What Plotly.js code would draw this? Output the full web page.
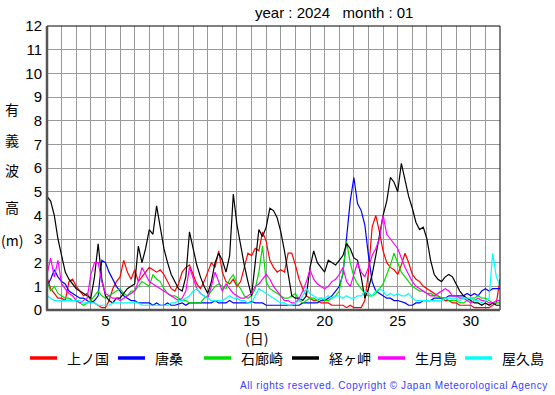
<!DOCTYPE html>
<html><head><meta charset="utf-8">
<script src="https://cdn.plot.ly/plotly-3.0.1.min.js"></script>
<style>html,body{margin:0;padding:0;background:#fff;}#chart{width:555px;height:395px;}</style>
</head><body><div id="chart"></div>
<script>
// 6-hourly readings, starting Jan 1 00:00 (day 1.0) to Feb 1 00:00 (day 32.0)
const startDay = 1;
const stepDays = 0.25;
const stations = ['上ノ国','唐桑','石廊崎','経ヶ岬','生月島','屋久島'];
const colors = ['#ff0000','#0000ff','#00dd00','#000000','#ff00ff','#00ffff'];

const kaminokuni = [
1.4,0.9,0.7,0.5, 0.5,0.4,1.2,1.3, 1.0,0.8,0.6,0.7, 0.4,0.3,0.2,0.1,
0.1,0.4,0.9,1.2, 1.4,2.1,1.6,1.3, 1.7,1.2,1.4,1.6, 1.8,1.7,1.6,1.7,
1.5,1.2,0.9,0.8, 1.1,1.6,1.8,1.9, 1.5,1.1,0.9,1.2, 1.6,2.0,1.8,2.5,
1.6,1.2,1.1,1.3, 1.0,1.2,1.8,2.4, 2.3,2.6,2.5,3.3, 2.9,2.1,1.8,1.6,
1.7,1.6,2.4,2.4, 1.9,1.3,0.9,0.6, 0.5,0.4,0.4,0.3, 0.3,0.3,0.2,0.2,
0.2,0.2,0.1,0.2, 0.1,0.1,0.1,0.4, 1.6,3.5,4.0,3.3, 2.5,2.0,1.8,1.7,
1.5,1.9,2.4,2.0, 1.5,1.3,1.2,1.0, 0.9,0.8,0.7,0.6, 0.5,0.4,0.4,0.3,
0.3,0.2,0.2,0.2, 0.2,0.1,0.1,0.1, 0.1,0.1,0.2,0.3, 1.3];

const karakuwa = [
1.0,1.3,1.7,1.4, 1.2,1.1,0.8,0.7, 0.6,0.5,0.5,0.4, 0.3,0.4,0.6,2.1,
2.0,1.6,1.3,1.0, 0.8,0.6,0.5,0.4, 0.4,0.3,0.3,0.3, 0.3,0.2,0.3,0.2,
0.2,0.3,0.2,0.2, 0.25,0.3,0.2,0.3, 0.3,0.3,0.3,0.3, 0.3,0.3,0.4,0.3,
0.3,0.3,0.4,0.3, 0.3,0.3,0.3,0.3, 0.35,0.3,0.3,0.3, 0.2,0.2,0.2,0.2,
0.2,0.2,0.2,0.2, 0.2,0.2,0.3,0.3, 0.3,0.3,0.3,0.4, 0.4,0.5,0.6,0.8,
1.0,1.5,3.0,4.6, 5.6,4.5,4.2,3.6, 2.3,1.2,0.8,0.7, 0.6,0.5,0.5,0.4,
0.4,0.35,0.3,0.2, 0.2,0.3,0.3,0.4, 0.4,0.4,0.5,0.5, 0.5,0.5,0.6,0.6,
0.6,0.6,0.6,0.7, 0.6,0.7,0.6,0.8, 0.9,0.8,0.9,0.9, 0.9];

const irozaki = [
1.2,0.8,1.0,0.7, 0.6,0.5,0.5,0.4, 0.4,0.3,0.2,0.3, 0.4,0.6,0.8,0.6,
0.5,0.6,0.7,0.8, 0.9,0.7,0.6,0.8, 0.8,1.0,1.2,1.1, 1.0,1.5,1.3,1.2,
0.9,0.7,0.6,0.6, 0.5,0.4,0.4,0.3, 0.3,0.3,0.3,0.5, 0.6,0.8,1.0,1.1,
1.0,0.9,1.3,1.5, 1.1,0.9,0.6,0.5, 0.6,0.9,1.6,2.7, 1.2,0.9,0.8,0.7,
0.6,0.5,0.5,0.6, 0.7,0.4,0.3,0.4, 0.5,0.5,0.4,0.5, 0.4,0.4,0.5,0.6,
0.8,1.6,2.9,2.0, 1.4,1.1,0.9,0.7, 0.6,0.6,0.7,0.9, 1.1,1.5,1.9,2.4,
2.0,1.6,1.4,1.2, 1.0,0.9,0.8,0.8, 0.7,0.7,0.6,0.6, 0.5,0.5,0.4,0.4,
0.4,0.3,0.3,0.4, 0.5,0.5,0.6,0.5, 0.5,0.4,0.3,0.3, 0.3];

const kyogamisaki = [
4.8,4.6,4.0,3.0, 2.3,1.6,1.3,1.1, 0.9,0.8,0.7,0.6, 0.5,1.4,2.8,1.3,
0.6,0.4,0.3,0.5, 0.5,0.7,0.9,1.0, 1.1,2.7,2.0,2.6, 3.4,3.2,4.4,3.5,
2.6,2.0,1.5,1.2, 0.9,0.8,1.4,3.3, 2.6,1.9,1.4,1.0, 0.7,1.2,2.0,2.4,
2.1,1.6,2.3,4.9, 3.6,2.7,1.9,1.2, 0.6,2.0,3.4,3.1, 3.5,4.3,4.2,3.9,
3.3,2.5,1.5,0.6, 0.5,0.5,0.4,0.6, 1.8,2.5,2.0,1.8, 1.6,2.1,2.0,1.9,
2.1,2.3,2.8,2.6, 2.2,2.1,1.4,0.5, 0.9,1.5,2.3,3.2, 4.0,4.6,5.6,5.4,
5.0,6.2,5.5,4.8, 4.3,3.7,3.4,3.5, 3.0,2.1,1.5,1.3, 1.2,1.4,1.5,1.4,
1.1,0.8,0.6,0.5, 0.4,0.3,0.3,0.2, 0.3,0.2,0.3,0.2, 0.2];

const ikitsuki = [
1.5,2.2,1.4,2.1, 1.1,0.9,0.7,0.6, 0.4,0.3,0.4,0.5, 1.5,2.0,2.0,1.2,
0.7,0.6,0.5,0.5, 0.4,0.5,0.6,0.7, 0.8,1.2,1.8,1.5, 1.2,1.1,1.0,0.9,
0.8,0.7,0.6,0.5, 0.4,0.5,0.8,1.8, 1.3,0.9,0.7,0.6, 0.5,1.0,1.6,1.2,
0.8,1.1,0.9,0.7, 0.6,0.5,0.5,0.6, 0.7,1.0,1.1,1.3, 1.5,1.3,1.0,0.8,
0.6,0.4,0.4,0.3, 0.3,0.5,0.8,1.2, 1.7,1.3,1.1,1.0, 0.9,1.0,1.2,1.3,
1.5,1.8,1.2,1.0, 1.5,2.0,1.6,1.4, 1.8,2.3,2.6,3.0, 4.0,3.2,3.0,2.8,
2.6,2.2,1.8,1.5, 1.2,1.0,0.9,0.8, 0.7,0.6,0.6,0.7, 0.8,0.9,0.8,0.6,
0.6,0.5,0.5,0.4, 0.3,0.4,0.5,0.4, 0.4,0.3,0.3,0.4, 0.4];

const yakushima = [
0.6,0.5,0.4,0.4, 0.4,0.4,0.4,0.4, 0.4,0.4,0.3,0.3, 0.3,0.3,0.2,0.2,
0.2,0.2,0.3,0.3, 0.3,0.3,0.3,0.3, 0.3,0.3,0.2,0.2, 0.2,0.2,0.2,0.2,
0.2,0.2,0.3,0.3, 0.4,0.4,0.5,0.6, 0.8,0.9,0.7,0.6, 0.5,0.4,0.4,0.4,
0.4,0.5,0.6,0.5, 0.5,0.4,0.4,0.3, 0.3,0.6,0.9,0.8, 0.7,0.6,0.5,0.4,
0.3,0.3,0.2,0.2, 0.3,0.4,0.6,0.9, 0.7,0.6,0.5,0.5, 0.5,0.6,0.5,0.6,
0.6,0.5,0.6,0.5, 0.5,0.6,0.6,0.8, 0.7,0.6,0.8,0.9, 0.8,0.6,0.7,0.6,
0.7,0.6,0.6,0.7, 0.5,0.4,0.4,0.4, 0.4,0.4,0.4,0.4, 0.4,0.5,0.5,0.5,
0.5,0.4,0.5,0.5, 0.5,0.4,0.4,0.3, 0.4,0.5,2.4,1.4, 1.0];

const series = [kaminokuni, karakuwa, irozaki, kyogamisaki, ikitsuki, yakushima];
const xTickVals = [5,10,15,20,25,30];
const yTickVals = [0,1,2,3,4,5,6,7,8,9,10,11,12];
const titleText = 'year : 2024   month : 01';
const yTitleChars = ['有','義','波','高','(m)'];
const xTitleText = '(日)';
const copyrightText = 'All rights reserved. Copyright © Japan Meteorological Agency';

// plot area in pixels
const L = 47, R = 500, T = 26, B = 310, W = 555, H = 395;
const px = x => (x - L) / (R - L);
const py = y => (B - y) / (B - T);

const traces = series.map((vals, k) => ({
  type: 'scatter', mode: 'lines', name: stations[k],
  x: vals.map((v, i) => startDay + i * stepDays), y: vals,
  line: {color: colors[k], width: 1.2}, showlegend: false, hoverinfo: 'skip'
}));

const shapes = [
  {type:'rect', xref:'paper', yref:'paper', x0:0, x1:1, y0:0, y1:1, line:{color:'#000', width:1}},
  {type:'line', xref:'paper', yref:'paper', x0:px(47), x1:px(47), y0:py(310), y1:py(26), line:{color:'#555', width:2.5}},
  {type:'line', xref:'paper', yref:'paper', x0:px(46), x1:px(500), y0:py(310), y1:py(310), line:{color:'#555', width:2.5}}
];
const annotations = [];
const font = 'Liberation Sans, Arial, sans-serif';
const jfont = 'Noto Sans CJK JP, sans-serif';
annotations.push({xref:'paper', yref:'paper', x:px(334), y:py(13), text:titleText, showarrow:false,
  xanchor:'center', yanchor:'middle', font:{family:font, size:15, color:'#000'}});
const yTitleY = [109, 140, 170, 207, 240];
yTitleChars.forEach((c, i) => annotations.push({xref:'paper', yref:'paper', x:px(12), y:py(yTitleY[i]),
  text:c, showarrow:false, xanchor:'center', yanchor:'middle', font:{family:jfont, size:14, color:'#000'}}));
annotations.push({xref:'paper', yref:'paper', x:px(256), y:py(338), text:xTitleText, showarrow:false,
  xanchor:'center', yanchor:'middle', font:{family:jfont, size:14, color:'#000'}});
// manual legend
const legX = [30, 118, 204, 292, 378, 465];
stations.forEach((s, k) => {
  shapes.push({type:'line', xref:'paper', yref:'paper', x0:px(legX[k]), x1:px(legX[k]+27),
    y0:py(358), y1:py(358), line:{color:colors[k], width:3.5}});
  annotations.push({xref:'paper', yref:'paper', x:px(legX[k]+35), y:py(358), text:s, showarrow:false,
    xanchor:'left', yanchor:'middle', font:{family:jfont, size:14, color:'#000'}});
});
annotations.push({xref:'paper', yref:'paper', x:px(256), y:py(385), text:copyrightText, showarrow:false,
  xanchor:'left', yanchor:'middle', font:{family:font, size:10, color:'#3b3bff'}});

const layout = {
  width: W, height: H, margin: {l:L, r:W-R, t:T, b:H-B, pad:0},
  paper_bgcolor:'#fff', plot_bgcolor:'#fff',
  xaxis: {range:[1,32], tickvals:xTickVals, ticks:'', showgrid:true, gridcolor:'#999', gridwidth:1,
    minor:{dtick:1, tick0:1, showgrid:true, gridcolor:'#999', gridwidth:1},
    zeroline:false, showline:false, tickfont:{family:font, size:15, color:'#000'}, fixedrange:true},
  yaxis: {range:[0,12], tickvals:yTickVals, ticks:'', showgrid:true, gridcolor:'#999', gridwidth:1,
    zeroline:false, showline:false, ticklabelstandoff:4, tickfont:{family:font, size:15, color:'#000'}, fixedrange:true},
  shapes, annotations, showlegend:false
};
Plotly.newPlot('chart', traces, layout, {staticPlot:true}).then(gd => {
  gd.querySelectorAll('.annotation-text').forEach(t => {
    if (t.textContent === copyrightText) t.setAttribute('letter-spacing', '0.6px');
  });
});
</script></body></html>
